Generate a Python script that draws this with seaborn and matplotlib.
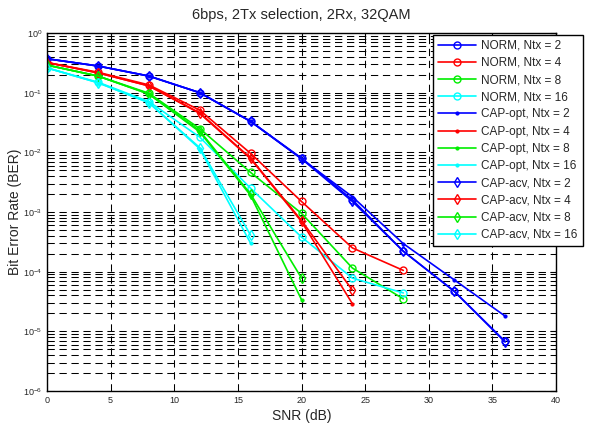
import numpy as np
import pandas as pd
import matplotlib
matplotlib.use('Agg')
import matplotlib.pyplot as plt
import seaborn as sns
from matplotlib.ticker import LogLocator, NullFormatter, MultipleLocator

# ---- data ----
SNR = [0, 4, 8, 12, 16, 20, 24, 28, 32, 36]

NORM_2 = [0.37, 0.28, 0.19, 0.10, 0.033, 0.0080, 1.6e-3, 2.2e-4, 4.7e-5, 6.8e-6]
NORM_4 = [0.32, 0.22, 0.135, 0.051, 0.0096, 1.5e-3, 2.5e-4, 1.05e-4]
NORM_8 = [0.29, 0.19, 0.098, 0.025, 4.6e-3, 9.5e-4, 1.15e-4, 3.5e-5]
NORM_16 = [0.26, 0.15, 0.071, 0.018, 2.5e-3, 3.8e-4, 7.8e-5, 4.4e-5]

CAPOPT_2 = [0.37, 0.28, 0.19, 0.10, 0.033, 0.0078, 1.8e-3, 2.95e-4, 7.3e-5, 1.8e-5]
CAPOPT_4 = [0.32, 0.215, 0.13, 0.045, 0.0078, 6.9e-4, 2.9e-5]
CAPOPT_8 = [0.29, 0.19, 0.095, 0.022, 1.9e-3, 3.4e-5]
CAPOPT_16 = [0.26, 0.147, 0.068, 0.0115, 3.0e-4]

CAPACV_2 = [0.37, 0.28, 0.19, 0.10, 0.033, 0.0078, 1.5e-3, 2.2e-4, 4.7e-5, 6.6e-6]
CAPACV_4 = [0.32, 0.215, 0.13, 0.046, 0.0080, 7.2e-4, 4.9e-5]
CAPACV_8 = [0.29, 0.19, 0.095, 0.023, 2.0e-3, 7.8e-5]
CAPACV_16 = [0.26, 0.147, 0.068, 0.012, 4.1e-4]

NTX = [2, 4, 8, 16]
COLORS = ['#0000ff', '#ff0000', '#00ee00', '#00ffff']

SERIES = [
    ("NORM", 'o', [NORM_2, NORM_4, NORM_8, NORM_16]),
    ("CAP-opt", '.', [CAPOPT_2, CAPOPT_4, CAPOPT_8, CAPOPT_16]),
    ("CAP-acv", 'd', [CAPACV_2, CAPACV_4, CAPACV_8, CAPACV_16]),
]

# ---- plot ----
sns.set_style("white")
plt.rcParams['font.family'] = ['Liberation Sans', 'DejaVu Sans']

fig = plt.figure(figsize=(5.97, 4.30), dpi=100)
ax = fig.add_axes([47 / 597, 1 - 391 / 430, (556 - 47) / 597, (391 - 33) / 430])

for name, mk, groups in SERIES:
    for ntx, col, vals in zip(NTX, COLORS, groups):
        x = SNR[:len(vals)]
        kw = dict(marker=mk, color=col, lw=1.2, markeredgecolor=col)
        if mk == '.':
            kw.update(markersize=4.5, markerfacecolor=col)
        else:
            kw.update(markersize=5, markerfacecolor='none', markeredgewidth=1.0)
        sns.lineplot(x=x, y=vals, ax=ax, label=f"{name}, Ntx = {ntx}", **kw)

ax.set_yscale('log')
ax.set_xlim(0, 40)
ax.set_ylim(1e-6, 1)
ax.xaxis.set_major_locator(MultipleLocator(5))
ax.yaxis.set_major_locator(LogLocator(base=10, numticks=10))
ax.yaxis.set_minor_locator(LogLocator(base=10, subs=np.arange(2, 10), numticks=10))
ax.yaxis.set_minor_formatter(NullFormatter())

grid_kw = dict(color='black', lw=0.75, ls=(0, (7, 4.5)))
ax.grid(True, which='major', axis='both', **grid_kw)
ax.grid(True, which='minor', axis='y', **grid_kw)

ax.tick_params(which='both', direction='in', top=True, right=True,
               labelsize=6.5, color='black')
ax.tick_params(which='major', length=4)
ax.tick_params(which='minor', length=2)
for s in ax.spines.values():
    s.set_color('black')
    s.set_linewidth(1.0)

ax.set_title("6bps, 2Tx selection, 2Rx, 32QAM", fontsize=10.5, pad=10)
ax.set_xlabel("SNR (dB)", fontsize=10, labelpad=3)
ax.set_ylabel("Bit Error Rate (BER)", fontsize=10, labelpad=1)

leg = ax.legend(loc='upper left', bbox_to_anchor=(433 / 597, 1 - 35 / 430),
                bbox_transform=fig.transFigure, fontsize=8.5, frameon=True,
                fancybox=False, edgecolor='black', framealpha=1,
                labelspacing=0.44, handlelength=3.2, borderpad=0.4,
                handletextpad=0.5, borderaxespad=0)
leg.get_frame().set_linewidth(1.0)

fig.savefig("out.png", dpi=100)
